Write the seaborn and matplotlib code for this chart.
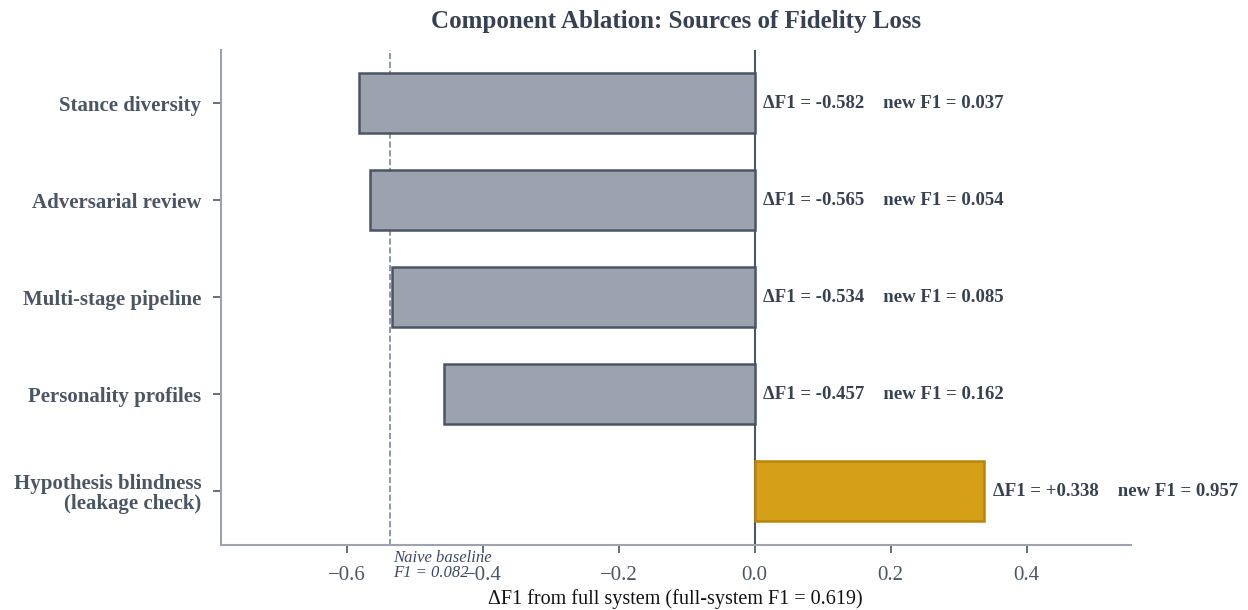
import pandas as pd
import seaborn as sns
import matplotlib.pyplot as plt

components = ["Stance diversity", "Adversarial review", "Multi-stage pipeline",
              "Personality profiles", "Hypothesis blindness\n(leakage check)"]
delta_f1 = [-0.582, -0.565, -0.534, -0.457, 0.338]
new_f1 = [0.037, 0.054, 0.085, 0.162, 0.957]
full_f1 = 0.619
naive_f1 = 0.082

df = pd.DataFrame({"Component": components, "Delta": delta_f1})

sns.set_style("white")
plt.rcParams['font.family'] = ['Liberation Serif', 'DejaVu Serif']

text_col = "#4B5563"
fig = plt.figure(figsize=(12.48, 6.1), dpi=100)
ax = fig.add_axes([0.177, 0.107, 0.729, 0.811])

colors = ["#9CA3AF"] * 4 + ["#D4A017"]
sns.barplot(data=df, y="Component", x="Delta", hue="Component", palette=colors,
            legend=False, orient="h", width=0.62, ax=ax, saturation=1)
edges = ["#4B5563"] * 4 + ["#B8860B"]
for bar, ec in zip(ax.patches, edges):
    bar.set_edgecolor(ec)
    bar.set_linewidth(1.8)

ax.axvline(0, color=text_col, lw=1.5, zorder=0)
base = naive_f1 - full_f1
ax.axvline(base, color="#7A8896", lw=1.2, ls="--", zorder=0)
ax.text(base + 0.005, -0.01, "Naive baseline\nF1 = 0.082", transform=ax.get_xaxis_transform(),
        ha="left", va="top", fontsize=12, style="italic", color="#3B4A66", linespacing=0.95)

for i, (d, n) in enumerate(zip(delta_f1, new_f1)):
    x = max(d, 0) + 0.012
    ax.text(x, i, f"ΔF1 = {d:+.3f}    new F1 = {n:.3f}",
            ha="left", va="center", fontsize=13.5, fontweight="bold", color="#374151",
            family=['Liberation Serif', 'DejaVu Sans'])

ax.set_xlim(-0.785, 0.553)
ax.set_ylim(4.55, -0.55)
ax.set_xticks([-0.6, -0.4, -0.2, 0.0, 0.2, 0.4])
ax.set_ylabel("")
ax.set_xlabel("ΔF1 from full system (full-system F1 = 0.619)", fontsize=14.5, color="#111111",
              family=['Liberation Serif', 'DejaVu Sans'], labelpad=3)
ax.tick_params(axis="x", bottom=True, labelsize=15, labelcolor=text_col, color=text_col,
               length=6, width=1.2, pad=9)
ax.tick_params(axis="y", left=True, labelsize=15, labelcolor=text_col, color=text_col,
               length=6, width=1.2, pad=8)
for lab in ax.get_yticklabels():
    lab.set_fontweight("bold")
    lab.set_linespacing(1.0)
sns.despine(ax=ax)
for s in ["left", "bottom"]:
    ax.spines[s].set_color("#9CA3AF")
    ax.spines[s].set_linewidth(1.5)

ax.set_title("Component Ablation: Sources of Fidelity Loss", fontsize=18, fontweight="bold",
             color="#374151", pad=16)

fig.savefig("out.png", dpi=100)
